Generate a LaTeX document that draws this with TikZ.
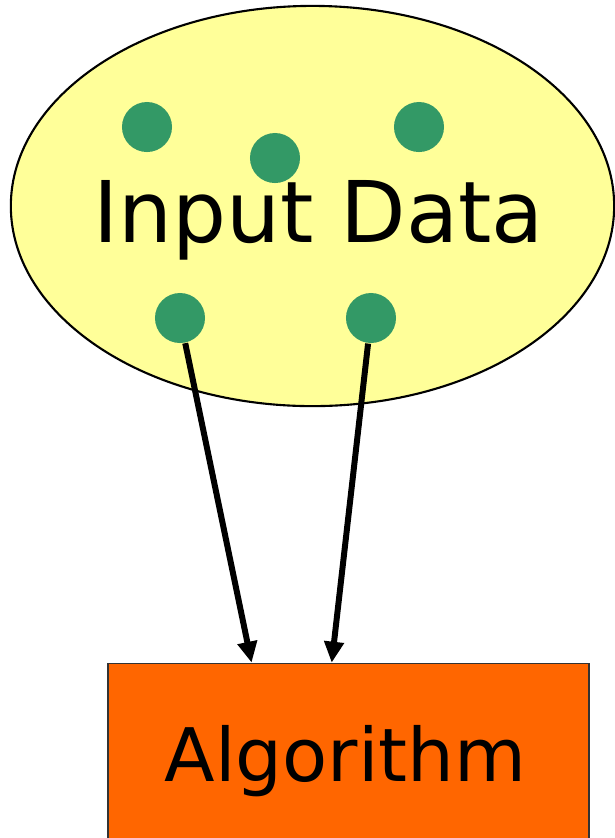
\documentclass[tikz,border=0pt]{standalone}
\usepackage{fontspec}
\setmainfont{DejaVu Sans}
\usepackage[HTML]{xcolor}
\usepackage{tikz}
\usetikzlibrary{positioning, arrows, arrows.meta, shapes.geometric}

\definecolor{datayellow}{HTML}{FFFF99}
\definecolor{dotgreen}{HTML}{339966}
\definecolor{algorange}{HTML}{FF6600}

\begin{document}
\begin{tikzpicture}[
    x=0.01cm, y=-0.01cm, % one unit is one pixel of the reference, y pointing down
    datablob/.style={ellipse, draw=black, line width=0.6pt, fill=datayellow,
        minimum width=6.03cm, minimum height=4.0cm, inner sep=0pt},
    datadot/.style={circle, fill=dotgreen, minimum size=0.5cm, inner sep=0pt},
    algbox/.style={rectangle, draw=black!80, line width=0.5pt, fill=algorange,
        minimum width=4.81cm, minimum height=2.2cm, inner sep=0pt},
    bigtext/.style={font=\fontsize{24.2}{28}\selectfont, inner sep=0pt},
    flow/.style={line width=1.7pt, -{Triangle[length=0.21cm, width=0.19cm]}}
]
    \useasboundingbox (0,0) rectangle (615,838);

    % 1. The input data: ellipse, its label and the five points
    \node[datablob] (data) at (312.5,206) {};
    \node[bigtext, anchor=base] (datatext) at (318.5,242) {Input Data};
    \node[datadot] (d1) at (147,127) {};
    \node[datadot] (d2) at (275,158) {};
    \node[datadot] (d3) at (419,127) {};
    \node[datadot] (d4) at (180,318) {};
    \node[datadot] (d5) at (371,318) {};

    % 2. The algorithm box (runs off the bottom edge)
    \node[algbox, anchor=north west] (alg) at (107,662.7) {};
    \node[bigtext, font=\fontsize{21}{25}\selectfont, anchor=base] (algtext)
        at (345.5,781) {Algorithm};

    % points on the top edge of the box where the arrows land
    \coordinate (in1) at (251.6,662.7);
    \coordinate (in2) at (331.7,662.7);

    % 3. Draw the arrows from the two lower points
    \draw[flow] (d4) -- (in1);
    \draw[flow] (d5) -- (in2);
\end{tikzpicture}
\end{document}
